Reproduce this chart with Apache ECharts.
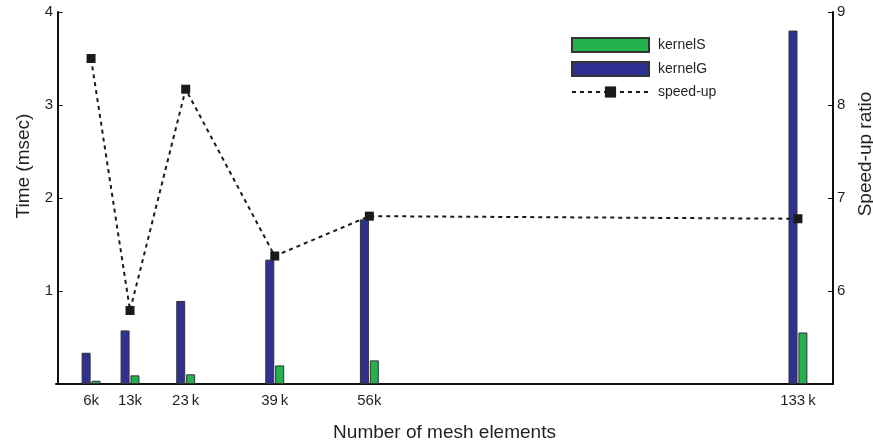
<!DOCTYPE html>
<html>
<head>
<meta charset="utf-8">
<script src="https://cdn.jsdelivr.net/npm/echarts@6/dist/echarts.min.js"></script>
<style>html,body{margin:0;padding:0;background:#fff}#c{width:873px;height:443px}</style>
</head>
<body>
<div id="c"></div>
<script>
// ---- data ----
const meshK = [6, 13, 23, 39, 56, 133];
const tickLabels = ['6k', '13k', '23\u2009k', '39\u2009k', '56k', '133\u2009k'];
const kernelG = [0.336, 0.576, 0.893, 1.337, 1.77, 3.80];
const kernelS = [0.035, 0.093, 0.104, 0.20, 0.254, 0.554];
const speedUp = [8.50, 5.79, 8.17, 6.376, 6.805, 6.777];
const timeTicks = [1, 2, 3, 4];
const ratioTicks = [6, 7, 8, 9];

const FONT = 'Liberation Sans, Arial, Helvetica, sans-serif';
const TXT = '#231f20';
const pair = (xs, ys) => xs.map((x, i) => [x, ys[i]]);

const chart = echarts.init(document.getElementById('c'), null, {renderer: 'canvas'});
chart.setOption({
  animation: false,
  textStyle: {fontFamily: FONT, color: TXT},
  grid: {left: 56, right: 40, top: 12, bottom: 59, containLabel: false, outerBoundsMode: 'none'},
  legend: {
    orient: 'vertical', left: 571, top: 37, padding: 0,
    itemWidth: 77, itemHeight: 14, itemGap: 8,
    data: [{name: 'kernelS', icon: 'rect'}, {name: 'kernelG', icon: 'rect'}, {name: 'speed-up'}],
    textStyle: {fontFamily: FONT, fontSize: 14, color: TXT, padding: [0, 0, 0, 4]}
  },
  xAxis: {
    type: 'value', min: -0.3, max: 139.3,
    name: 'Number of mesh elements', nameLocation: 'middle', nameGap: 39,
    nameTextStyle: {fontFamily: FONT, fontSize: 19, color: TXT},
    axisLine: {lineStyle: {color: '#111', width: 2}},
    axisTick: {show: false},
    splitLine: {show: false},
    axisLabel: {
      customValues: meshK, margin: 9, fontSize: 15, color: TXT, fontFamily: FONT,
      formatter: v => { const i = meshK.indexOf(v); return i >= 0 ? tickLabels[i] : ''; }
    }
  },
  yAxis: [{
    type: 'value', min: 0, max: 4, interval: 1, position: 'left',
    name: 'Time (msec)', nameLocation: 'middle', nameGap: 22, nameRotate: 90,
    nameTextStyle: {fontFamily: FONT, fontSize: 19, color: TXT, padding: [0, 0, 0, 64]},
    axisLine: {show: true, lineStyle: {color: '#111', width: 2}},
    axisTick: {show: true, inside: true, length: 5, lineStyle: {color: '#111'}},
    splitLine: {show: false},
    axisLabel: {margin: 3, fontSize: 15, color: TXT, fontFamily: FONT,
      formatter: v => timeTicks.indexOf(v) >= 0 ? String(v) : ''}
  }, {
    type: 'value', min: 5, max: 9, interval: 1, position: 'right',
    name: 'Speed-up ratio', nameLocation: 'middle', nameGap: 18, nameRotate: 90,
    nameTextStyle: {fontFamily: FONT, fontSize: 19, color: TXT, padding: [0, 0, 0, 88]},
    axisLine: {show: true, lineStyle: {color: '#111', width: 2}},
    axisTick: {show: true, inside: true, length: 5, lineStyle: {color: '#111'}},
    splitLine: {show: false},
    axisLabel: {margin: 4, fontSize: 15, color: TXT, fontFamily: FONT,
      formatter: v => ratioTicks.indexOf(v) >= 0 ? String(v) : ''}
  }],
  series: [{
    name: 'kernelG', type: 'bar', yAxisIndex: 0, barWidth: 9, barGap: '10%',
    itemStyle: {color: '#2e3192', borderColor: '#333', borderWidth: 1},
    data: pair(meshK, kernelG)
  }, {
    name: 'kernelS', type: 'bar', yAxisIndex: 0, barWidth: 9, barGap: '10%',
    itemStyle: {color: '#22b14c', borderColor: '#333', borderWidth: 1},
    data: pair(meshK, kernelS)
  }, {
    name: 'speed-up', type: 'line', yAxisIndex: 1, z: 5,
    symbol: 'rect', symbolSize: 9,
    itemStyle: {color: '#1a1a1a'},
    lineStyle: {color: '#1a1a1a', width: 2, type: [4, 4]},
    data: pair(meshK, speedUp)
  }]
});
</script>
</body>
</html>
